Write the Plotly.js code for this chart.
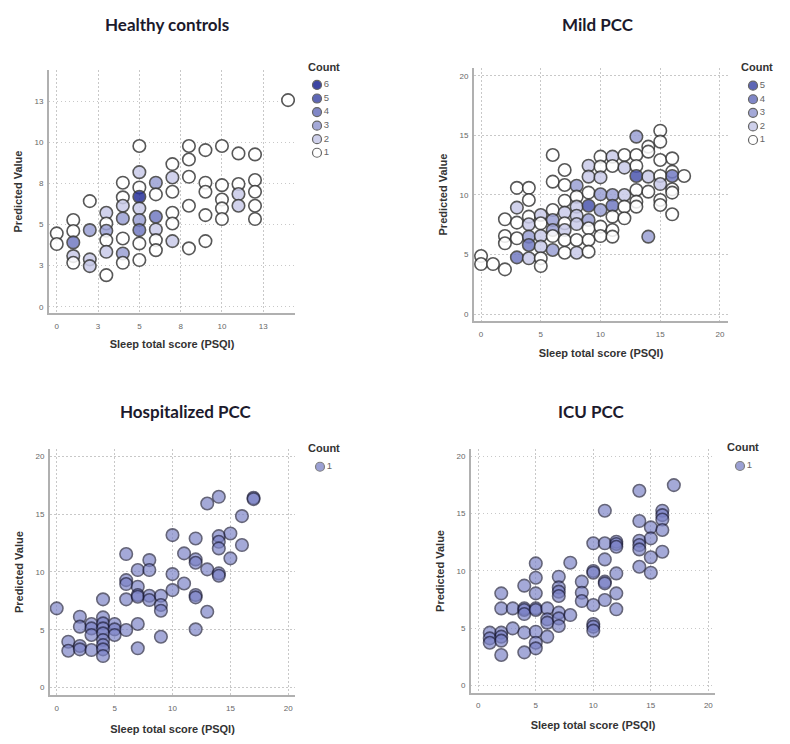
<!DOCTYPE html>
<html>
<head>
<meta charset="utf-8">
<script src="https://cdn.plot.ly/plotly-3.0.1.min.js"></script>
<style>html,body{margin:0;padding:0;background:#fff;}#chart{width:790px;height:744px;}</style>
</head>
<body>
<div id="chart"></div>
<script>
// ---------- Data ----------
const panelTitles = ["Healthy controls", "Mild PCC", "Hospitalized PCC", "ICU PCC"];
const xTitle = "Sleep total score (PSQI)";
const yTitle = "Predicted Value";
const legendTitle = "Count";

// Healthy controls: tick values every 2.5, labelled rounded
const hcTickVals = [0, 2.5, 5, 7.5, 10, 12.5];
const hcTickText = ["0", "3", "5", "8", "10", "13"];
const pccTickVals = [0, 5, 10, 15, 20];
const pccTickText = ["0", "5", "10", "15", "20"];

const hcX = [0,0, 1,1,1,1,1, 2,2,2,2, 3,3,3,3,3,3, 4,4,4,4,4,4,4, 5,5,5,5,5,5,5,5,5, 6,6,6,6,6,6, 7,7,7,7,7,7, 8,8,8,8,8, 9,9,9,9,9, 10,10,10,10,10, 11,11,11,11, 12,12,12,12,12, 14];
const hcY = [4.46,3.81, 5.27,4.6,3.91,3.08,2.67, 6.42,4.66,2.88,2.47, 5.71,5.06,4.62,4.05,3.34,1.92, 7.54,6.65,6.14,5.37,4.15,3.24,2.67, 9.77,8.18,7.25,6.69,5.98,5.27,4.66,3.85,2.84, 7.54,6.83,5.47,4.7,4.05,3.44, 8.67,7.86,6.99,5.71,5.06,3.99, 9.77,8.95,7.9,6.14,3.55, 9.52,7.54,6.99,5.57,3.99, 9.77,7.39,6.52,5.98,5.33, 9.32,7.46,6.85,6.14, 9.26,7.7,6.99,6.14,5.33, 12.56];
const hcN = [1,1, 1,1,4,2,1, 1,3,2,2, 2,1,3,1,2,1, 1,1,2,3,1,3,1, 1,2,1,6,2,3,4,1,1, 3,1,4,2,1,1, 1,2,1,1,1,2, 1,1,1,1,1, 1,1,1,1,1, 1,1,1,1,1, 1,1,2,2, 1,1,1,1,1, 1];

const mildX = [0,0, 1, 2,2,2,2, 3,3,3,3,3, 4,4,4,4,4,4,4, 5,5,5,5,5,5, 6,6,6,6,6,6,6, 7,7,7,7,7,7,7,7, 8,8,8,8,8,8,8, 9,9,9,9,9,9,9,9, 10,10,10,10,10,10,10, 11,11,11,11,11,11,11, 12,12,12,12,12, 13,13,13,13,13,13,13, 14,14,14,14,14, 15,15,15,15,15,15,15, 16,16,16,16,16,16, 17];
const mildY = [4.87,4.2, 4.2, 7.96,6.55,5.94,3.75, 10.6,8.94,7.68,6.36,4.76, 10.6,9.58,8.18,7.54,6.5,5.8,4.68, 8.32,7.62,6.55,5.66,4.68,4.03, 13.36,11.12,8.74,7.9,7.06,6.55,5.38, 12.1,10.84,9.52,8.52,7.62,7.06,6.22,5.15, 10.78,9.86,9.02,8.26,7.56,6.22,5.15, 12.46,11.54,10.2,9.1,7.9,7.2,6.22,5.24, 13.22,12.38,11.48,10.06,8.74,7.34,6.55, 13.22,12.44,10.0,9.1,8.18,7.06,6.5, 13.36,12.3,10.0,9.02,8.04, 14.9,13.36,12.44,11.6,10.42,9.44,9.02, 14.06,13.64,11.54,10.28,6.5, 15.4,14.48,12.94,11.6,10.92,9.58,9.16, 13.08,11.96,11.6,10.48,10.2,8.38, 11.6];
const mildN = [1,1, 1, 1,1,1,1, 1,2,1,1,4, 1,1,1,2,3,4,2, 2,1,2,2,1,1, 1,1,1,3,3,1,3, 1,1,1,2,1,2,1,1, 3,1,2,2,2,1,2, 2,2,1,5,3,1,1,1, 1,1,2,3,3,1,1, 2,1,3,4,1,1,1, 1,2,2,1,1, 3,1,1,5,1,1,1, 1,1,2,1,3, 1,1,1,1,2,1,1, 1,1,4,1,1,1, 1];

const hospX = [0, 1,1, 2,2,2,2, 3,3,3,3, 4,4,4,4,4,4,4,4,4, 5,5,5, 6,6,6,6,6, 7,7,7,7,7,7, 8,8,8,8, 9,9,9,9, 10,10,10, 11,11, 12,12,12,12,12,12, 13,13,13, 14,14,14,14,14,14, 15,15, 16,16, 17,17];
const hospY = [6.85, 3.97,3.19, 6.13,5.27,3.6,3.31, 5.5,5.12,4.55,3.25, 7.63,6.07,5.55,5.12,4.69,4.12,3.68,3.31,2.73, 5.5,5.04,4.55, 11.54,9.29,8.95,7.63,4.98, 10.16,8.72,8.0,7.86,5.5,3.4, 11.02,10.16,7.94,7.57, 7.94,7.14,6.65,4.4, 13.18,9.81,8.43, 11.6,9.0, 12.89,11.08,10.79,8.0,7.8,5.04, 15.91,10.22,6.56, 16.49,13.09,12.6,12.03,9.87,9.67, 13.32,11.17, 14.82,12.32, 16.4,16.29];

const icuX = [1,1,1, 2,2,2,2,2,2, 3,3, 4,4,4,4,4,4, 5,5,5,5,5,5,5,5, 6,6,6,6, 7,7,7,7,7,7,7, 8,8, 9,9,9, 10,10,10,10,10,10,10, 11,11,11,11,11,11, 12,12,12,12,12,12, 14,14,14,14,14,14, 15,15,15,15, 16,16,16,16,16, 17];
const icuY = [4.62,4.12,3.74, 8.04,6.73,4.62,4.27,3.92,2.67, 6.73,4.99, 8.71,6.73,6.59,6.24,4.62,2.9, 10.65,9.4,8.04,6.73,6.59,4.7,3.74,3.25, 6.73,5.78,5.49,4.27, 9.49,8.56,8.19,7.81,6.36,5.86,5.2, 10.71,6.15, 9.06,8.1,7.37, 12.4,9.99,9.84,7.02,5.37,5.14,4.79, 15.24,12.4,11.0,9.06,8.91,7.46, 12.54,12.34,12.1,9.78,8.04,6.65, 16.98,14.34,12.63,12.25,11.87,10.36, 13.79,12.83,11.18,9.84, 15.24,14.86,14.48,13.56,11.67, 17.47];

const hcLegendCounts = [6, 5, 4, 3, 2, 1];
const mildLegendCounts = [5, 4, 3, 2, 1];
const singleLegendCounts = [1];

// ---------- Styles ----------
const countColors = {1: "#ffffff", 2: "#c9cbe9", 3: "#9ba0d4", 4: "#737bc2", 5: "#4c56ad", 6: "#27319a"};
const blueFill = "#7a81c6";
const edge = "#3a3a3a";
const FONT = "Liberation Sans, Arial, sans-serif";
const GRID_DASH = "1.5px,2.5px";

function countTrace(xs, ys, ns, xa, ya) {
  return {
    type: "scatter", mode: "markers", x: xs, y: ys, xaxis: xa, yaxis: ya,
    showlegend: false, hoverinfo: "x+y",
    marker: {size: 12.5, color: ns.map(n => countColors[n]), opacity: 0.85,
             line: {color: edge, width: 1.6}}
  };
}
function blueTrace(xs, ys, xa, ya) {
  return {
    type: "scatter", mode: "markers", x: xs, y: ys, xaxis: xa, yaxis: ya,
    showlegend: false, hoverinfo: "x+y",
    marker: {size: 12.5, color: blueFill, opacity: 0.68,
             line: {color: "#1d1d3a", width: 1.6}}
  };
}
function legendTrace(counts, colors, opacity, xa, ya) {
  return {
    type: "scatter", mode: "markers+text", x: counts.map(() => 0), y: counts,
    text: counts.map(String), textposition: "middle right",
    textfont: {family: FONT, size: 9.5, color: "#666"},
    xaxis: xa, yaxis: ya, showlegend: false, hoverinfo: "skip", cliponaxis: false,
    marker: {size: 9, color: colors, opacity: opacity, line: {color: "#555", width: 1.2}}
  };
}

const data = [
  countTrace(hcX, hcY, hcN, "x", "y"),
  countTrace(mildX, mildY, mildN, "x2", "y2"),
  blueTrace(hospX, hospY, "x3", "y3"),
  blueTrace(icuX, icuY, "x4", "y4"),
  legendTrace(hcLegendCounts, hcLegendCounts.map(n => countColors[n]), 0.9, "x5", "y5"),
  legendTrace(mildLegendCounts, mildLegendCounts.map(n => countColors[n]), 0.9, "x6", "y6"),
  legendTrace(singleLegendCounts, [blueFill], 0.75, "x7", "y7"),
  legendTrace(singleLegendCounts, [blueFill], 0.75, "x8", "y8")
];

function xAx(domain, range, tv, tt, anchor, standoff) {
  return {
    domain: domain, range: range, anchor: anchor,
    tickvals: tv, ticktext: tt, ticks: "outside", ticklen: 4, tickcolor: "rgba(0,0,0,0)",
    tickfont: {family: FONT, size: 8, color: "#666"},
    showline: true, linecolor: "#b0b0b0", linewidth: 2, mirror: false,
    showgrid: true, gridcolor: "#c8c8c8", griddash: GRID_DASH, gridwidth: 1, zeroline: false,
    title: {text: xTitle, font: {family: FONT, size: 11, color: "#333", weight: "bold"}, standoff: standoff},
    fixedrange: true
  };
}
function yAx(domain, range, tv, tt, anchor) {
  return {
    domain: domain, range: range, anchor: anchor,
    tickvals: tv, ticktext: tt, ticks: "outside", ticklen: 2, tickcolor: "rgba(0,0,0,0)",
    tickfont: {family: FONT, size: 8, color: "#666"},
    showline: true, linecolor: "#b0b0b0", linewidth: 2, mirror: false,
    showgrid: true, gridcolor: "#c8c8c8", griddash: GRID_DASH, gridwidth: 1, zeroline: false,
    title: {text: yTitle, font: {family: FONT, size: 11, color: "#333", weight: "bold"}, standoff: 10},
    fixedrange: true
  };
}
function hidden(domain, range) {
  return {domain: domain, range: range, visible: false, fixedrange: true, showgrid: false, zeroline: false};
}

const titleFont = {family: "Lato, Liberation Sans, Arial, sans-serif", size: 17, color: "#1c1a2c", weight: "bold"};
const legFont = {family: FONT, size: 11, color: "#333", weight: "bold"};

const layout = {
  width: 790, height: 744,
  margin: {l: 0, r: 0, t: 0, b: 0},
  paper_bgcolor: "#ffffff", plot_bgcolor: "#ffffff",
  showlegend: false,
  xaxis:  xAx([0.062, 0.3734], [-0.47, 14.42], hcTickVals, hcTickText, "y", 11),
  yaxis:  yAx([0.5793, 0.9059], [-0.38, 14.39], hcTickVals, hcTickText, "x"),
  xaxis2: xAx([0.6, 0.9215], [-0.59, 20.67], pccTickVals, pccTickText, "y2", 12),
  yaxis2: yAx([0.5685, 0.9086], [-0.59, 20.67], pccTickVals, pccTickText, "x2"),
  xaxis3: xAx([0.0633, 0.3734], [-0.58, 20.58], pccTickVals, pccTickText, "y3", 14),
  yaxis3: yAx([0.0659, 0.3961], [-0.63, 20.59], pccTickVals, pccTickText, "x3"),
  xaxis4: xAx([0.5962, 0.9051], [-0.63, 20.58], pccTickVals, pccTickText, "y4", 12),
  yaxis4: yAx([0.069, 0.3961], [-0.61, 20.59], pccTickVals, pccTickText, "x4"),
  xaxis5: hidden([312/790, 322/790], [-1, 1]),
  yaxis5: hidden([0.7856, 0.8949], [0.5, 6.5]),
  xaxis6: hidden([748/790, 758/790], [-1, 1]),
  yaxis6: hidden([0.8027, 0.894], [0.5, 5.5]),
  xaxis7: hidden([315/790, 325/790], [-1, 1]),
  yaxis7: hidden([0.3636, 0.3817], [0.5, 1.5]),
  xaxis8: hidden([735/790, 745/790], [-1, 1]),
  yaxis8: hidden([0.3645, 0.3828], [0.5, 1.5]),
  annotations: [
    {text: panelTitles[0], x: 167/790, y: (744-25)/744, xref: "paper", yref: "paper", xanchor: "center", yanchor: "middle", showarrow: false, font: titleFont},
    {text: panelTitles[1], x: 598/790, y: (744-25)/744, xref: "paper", yref: "paper", xanchor: "center", yanchor: "middle", showarrow: false, font: titleFont},
    {text: panelTitles[2], x: 186/790, y: (744-411)/744, xref: "paper", yref: "paper", xanchor: "center", yanchor: "middle", showarrow: false, font: titleFont},
    {text: panelTitles[3], x: 591/790, y: (744-411)/744, xref: "paper", yref: "paper", xanchor: "center", yanchor: "middle", showarrow: false, font: titleFont},
    {text: legendTitle, x: 324/790, y: (744-67)/744, xref: "paper", yref: "paper", xanchor: "center", yanchor: "middle", showarrow: false, font: legFont},
    {text: legendTitle, x: 757/790, y: (744-67)/744, xref: "paper", yref: "paper", xanchor: "center", yanchor: "middle", showarrow: false, font: legFont},
    {text: legendTitle, x: 324/790, y: (744-448)/744, xref: "paper", yref: "paper", xanchor: "center", yanchor: "middle", showarrow: false, font: legFont},
    {text: legendTitle, x: 743/790, y: (744-447)/744, xref: "paper", yref: "paper", xanchor: "center", yanchor: "middle", showarrow: false, font: legFont}
  ]
};

Plotly.newPlot("chart", data, layout, {staticPlot: true, displayModeBar: false});
</script>
</body>
</html>
